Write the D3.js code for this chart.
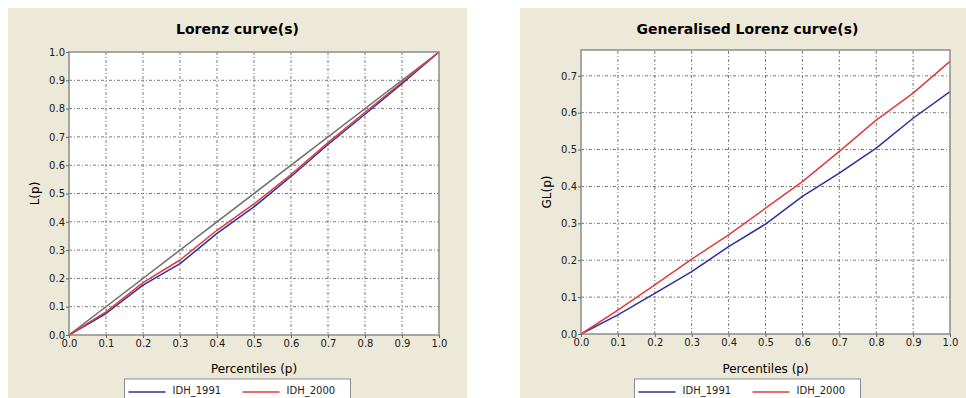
<!DOCTYPE html>
<html>
<head>
<meta charset="utf-8">
<script src="https://cdn.jsdelivr.net/npm/d3@7"></script>
<style>
  body { margin: 0; background: #ffffff; }
  svg { display: block; }
</style>
</head>
<body>
<div id="chart"></div>
<script>
// values
const percentiles = [0, 0.1, 0.2, 0.3, 0.4, 0.5, 0.6, 0.7, 0.8, 0.9, 1.0];
const lorenz1991 = [0, 0.076, 0.176, 0.252, 0.359, 0.453, 0.560, 0.673, 0.780, 0.888, 1.0];
const lorenz2000 = [0, 0.082, 0.185, 0.265, 0.370, 0.463, 0.567, 0.680, 0.787, 0.893, 1.0];
const genLorenz1991 = [0, 0.052, 0.110, 0.169, 0.237, 0.298, 0.373, 0.436, 0.504, 0.585, 0.657];
const genLorenz2000 = [0, 0.065, 0.133, 0.203, 0.269, 0.341, 0.413, 0.495, 0.580, 0.653, 0.739];
const equalityP = [0, 1];
const equalityL = [0, 1];

const xTicks = [0, 0.1, 0.2, 0.3, 0.4, 0.5, 0.6, 0.7, 0.8, 0.9, 1.0];
const lorenzTicks = [0, 0.1, 0.2, 0.3, 0.4, 0.5, 0.6, 0.7, 0.8, 0.9, 1.0];
const genTicks = [0, 0.1, 0.2, 0.3, 0.4, 0.5, 0.6, 0.7];
const seriesNames = ["IDH_1991", "IDH_2000"];
const seriesColors = ["#2f2f9f", "#e03c3c"];

const width = 966;
const height = 398;
const font = "'DejaVu Sans', Verdana, sans-serif";

const svg = d3.select("#chart").append("svg")
   .attr("width", width)
   .attr("height", height)
   .attr("viewBox", [0, 0, width, height]);

function drawPanel(p) {
   const g = svg.append("g");

   // beige panel
   g.append("rect")
      .attr("x", p.panel[0]).attr("y", p.panel[1])
      .attr("width", p.panel[2]).attr("height", p.panel[3])
      .attr("fill", "#ece9d8");

   const cx = p.panel[0] + p.panel[2] / 2;

   g.append("text")
      .attr("x", cx).attr("y", 34)
      .attr("text-anchor", "middle")
      .style("font-family", font)
      .style("font-size", "14px")
      .style("font-weight", "bold")
      .text(p.title);

   const x = d3.scaleLinear().domain([0, 1]).range([p.plot[0], p.plot[1]]);
   const y = d3.scaleLinear().domain(p.yDomain).range([p.plot[3], p.plot[2]]);

   g.append("rect")
      .attr("x", x(0)).attr("y", y(p.yDomain[1]))
      .attr("width", x(1) - x(0)).attr("height", y(0) - y(p.yDomain[1]))
      .attr("fill", "#ffffff");

   // dotted grid
   g.append("g")
      .selectAll("line")
      .data(xTicks.slice(1, -1))
      .join("line")
      .attr("x1", d => x(d)).attr("x2", d => x(d))
      .attr("y1", y(0)).attr("y2", y(p.yDomain[1]))
      .attr("stroke", "#7a7a7a")
      .attr("stroke-dasharray", "3,2,1,2");

   g.append("g")
      .selectAll("line")
      .data(p.yTicks.filter(d => d > 0 && d < p.yDomain[1] - 0.001))
      .join("line")
      .attr("x1", x(0)).attr("x2", x(1))
      .attr("y1", d => y(d)).attr("y2", d => y(d))
      .attr("stroke", "#7a7a7a")
      .attr("stroke-dasharray", "3,2,1,2");

   const line = d3.line()
      .x(d => x(d[0]))
      .y(d => y(d[1]));

   if (p.equality) {
      g.append("path")
         .datum(d3.zip(equalityP, equalityL))
         .attr("fill", "none")
         .attr("stroke", "#6e6e6e")
         .attr("stroke-width", 1.5)
         .attr("d", line);
   }

   p.series.forEach((s, i) => {
      g.append("path")
         .datum(d3.zip(percentiles, s))
         .attr("fill", "none")
         .attr("stroke", seriesColors[i])
         .attr("stroke-width", 1.5)
         .attr("stroke-linejoin", "round")
         .attr("d", line);
   });

   // frame
   g.append("rect")
      .attr("x", x(0)).attr("y", y(p.yDomain[1]))
      .attr("width", x(1) - x(0)).attr("height", y(0) - y(p.yDomain[1]))
      .attr("fill", "none")
      .attr("stroke", "#8c8c8c")
      .attr("stroke-width", 1.5);

   // axes
   g.append("g")
      .attr("transform", `translate(0,${y(0)})`)
      .style("font-family", font)
      .style("font-size", "10px")
      .call(d3.axisBottom(x)
         .tickValues(xTicks)
         .tickFormat(d3.format(".1f"))
         .tickSize(3)
         .tickPadding(2))
      .call(a => a.select(".domain").remove())
      .call(a => a.selectAll(".tick line").attr("stroke", "#666"))
      .call(a => a.selectAll(".tick text").attr("fill", "#1a1a1a"));

   g.append("g")
      .attr("transform", `translate(${x(0)},0)`)
      .style("font-family", font)
      .style("font-size", "10px")
      .call(d3.axisLeft(y)
         .tickValues(p.yTicks)
         .tickFormat(d3.format(".1f"))
         .tickSize(3)
         .tickPadding(1))
      .call(a => a.select(".domain").remove())
      .call(a => a.selectAll(".tick line").attr("stroke", "#666"))
      .call(a => a.selectAll(".tick text").attr("fill", "#1a1a1a"));

   g.append("text")
      .attr("x", (x(0) + x(1)) / 2).attr("y", 373)
      .attr("text-anchor", "middle")
      .style("font-family", font)
      .style("font-size", "12px")
      .text("Percentiles (p)");

   g.append("text")
      .attr("transform", `translate(${p.yLabelX},${(y(0) + y(p.yDomain[1])) / 2}) rotate(-90)`)
      .attr("text-anchor", "middle")
      .style("font-family", font)
      .style("font-size", "12px")
      .text(p.yLabel);

   // legend
   const lx = cx - 113;
   const legend = g.append("g").attr("transform", `translate(${lx},379)`);
   legend.append("rect")
      .attr("width", 226).attr("height", 30)
      .attr("fill", "#ffffff")
      .attr("stroke", "#8c8c8c");
   seriesNames.forEach((name, i) => {
      const ox = 4 + i * 114;
      legend.append("line")
         .attr("x1", ox).attr("x2", ox + 37)
         .attr("y1", 13).attr("y2", 13)
         .attr("stroke", seriesColors[i])
         .attr("stroke-width", 1.5);
      legend.append("text")
         .attr("x", ox + 44).attr("y", 15)
         .style("font-family", font)
         .style("font-size", "10px")
         .attr("fill", "#222")
         .text(name);
   });
}

drawPanel({
   panel: [8, 8, 459, 400],
   title: "Lorenz curve(s)",
   plot: [69, 439, 52, 335],
   yDomain: [0, 1],
   yTicks: lorenzTicks,
   yLabel: "L(p)",
   yLabelX: 39,
   equality: true,
   series: [lorenz1991, lorenz2000]
});

drawPanel({
   panel: [520, 8, 455, 400],
   title: "Generalised Lorenz curve(s)",
   plot: [581, 950, 50, 334],
   yDomain: [0, 0.77],
   yTicks: genTicks,
   yLabel: "GL(p)",
   yLabelX: 551,
   equality: false,
   series: [genLorenz1991, genLorenz2000]
});
</script>
</body>
</html>
